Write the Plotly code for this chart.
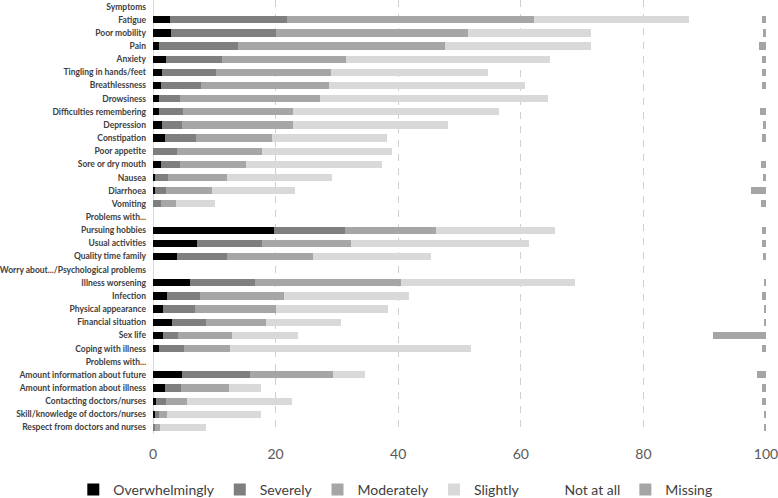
import plotly.graph_objs as go

labels = [
    "Symptoms", "Fatigue", "Poor mobility", "Pain", "Anxiety", "Tingling in hands/feet",
    "Breathlessness", "Drowsiness", "Difficulties remembering", "Depression", "Constipation",
    "Poor appetite", "Sore or dry mouth", "Nausea", "Diarrhoea", "Vomiting",
    "Problems with...", "Pursuing hobbies", "Usual activities", "Quality time family",
    "Worry about.../Psychological problems", "Illness worsening", "Infection",
    "Physical appearance", "Financial situation", "Sex life", "Coping with illness",
    "Problems with...", "Amount information about future", "Amount information about illness",
    "Contacting doctors/nurses", "Skill/knowledge of doctors/nurses",
    "Respect from doctors and nurses",
]

# percentages per row (header rows are 0)
overwhelmingly = [0, 2.7, 2.9, 0.9, 2.2, 1.4, 1.3, 0.9, 1.0, 1.4, 2.0, 0, 1.3, 0.4, 0.4, 0,
                  0, 19.7, 7.1, 3.9, 0, 6.1, 2.3, 1.6, 3.1, 1.6, 0.9,
                  0, 4.8, 2.0, 0.5, 0.4, 0]
severely = [0, 19.2, 17.1, 12.9, 9.0, 8.8, 6.6, 3.5, 3.9, 3.4, 5.0, 3.9, 3.1, 2.0, 1.8, 1.3,
            0, 11.7, 10.6, 8.1, 0, 10.6, 5.4, 5.2, 5.6, 2.5, 4.1,
            0, 11.1, 2.5, 1.6, 0.5, 0.3]
moderately = [0, 40.3, 31.4, 33.8, 20.3, 18.9, 20.8, 22.8, 18.0, 18.0, 12.4, 13.9, 10.8, 9.6, 7.5, 2.5,
              0, 14.7, 14.6, 14.1, 0, 23.7, 13.6, 13.2, 9.7, 8.8, 7.5,
              0, 13.5, 7.9, 3.4, 1.4, 0.8]
slightly = [0, 25.3, 20.1, 23.9, 33.2, 25.5, 32.0, 37.3, 33.5, 25.4, 18.8, 21.2, 22.1, 17.2, 13.4, 6.3,
            0, 19.5, 29.1, 19.2, 0, 28.4, 20.5, 18.4, 12.2, 10.7, 39.3,
            0, 5.2, 5.2, 17.1, 15.3, 7.5]
not_at_all = [0, 11.9, 28.0, 27.4, 34.7, 44.8, 38.6, 35.5, 42.6, 51.3, 61.2, 61.0, 61.9, 70.3, 74.5, 89.1,
              0, 33.8, 38.0, 54.2, 0, 31.0, 57.6, 61.2, 69.2, 67.7, 47.6,
              0, 63.9, 81.8, 76.8, 82.1, 91.1]
missing = [0, 0.6, 0.5, 1.1, 0.6, 0.6, 0.7, 0, 1.0, 0.5, 0.6, 0, 0.8, 0.5, 2.4, 0.8,
           0, 0.6, 0.6, 0.5, 0, 0.2, 0.6, 0.4, 0.2, 8.7, 0.6,
           0, 1.5, 0.6, 0.6, 0.3, 0.3]

series = [
    ("Overwhelmingly", overwhelmingly, "#000000"),
    ("Severely", severely, "#7f7f7f"),
    ("Moderately", moderately, "#a6a6a6"),
    ("Slightly", slightly, "#d9d9d9"),
    ("Not at all", not_at_all, "rgba(255,255,255,0)"),
    ("Missing", missing, "#a5a5a5"),
]

rows = list(range(len(labels)))

fig = go.Figure()
for name, vals, color in series:
    fig.add_trace(go.Bar(
        x=vals, y=rows, name=name, orientation="h",
        marker=dict(color=color, line=dict(width=0)),
    ))

fig.update_layout(
    barmode="stack",
    bargap=0.45,
    width=778, height=498,
    margin=dict(l=153, r=12, t=0, b=64, autoexpand=False),
    paper_bgcolor="white", plot_bgcolor="white",
    font=dict(family="Lato", color="#595959"),
    legend=dict(
        orientation="h",
        x=-0.13, y=-0.129, xanchor="left", yanchor="middle",
        font=dict(size=14, color="#404040"),
        itemwidth=30, tracegroupgap=0,
        traceorder="normal",
    ),
    xaxis=dict(
        range=[0, 100], tickvals=[0, 20, 40, 60, 80, 100],
        showgrid=True, gridcolor="#d0d0d0", griddash="7px,7px",
        zeroline=True, zerolinecolor="#d9d9d9", zerolinewidth=1,
        showline=False, tickfont=dict(size=14, color="#595959"),
        ticklabelstandoff=10, automargin=False, ticklabeloverflow="allow",
    ),
    yaxis=dict(
        tickvals=rows, ticktext=labels,
        range=[len(labels) - 0.5, -0.5],
        showgrid=False, zeroline=False,
        tickfont=dict(family="Lato", size=8.5, weight="bold", color="#404040"),
        ticklabelstandoff=6, automargin=False,
    ),
)

# page body has a default 8px margin; drop it so the figure sits at the corner
fig.write_html("out.html", config={"displayModeBar": False},
               post_script="document.body.style.margin='0';")
